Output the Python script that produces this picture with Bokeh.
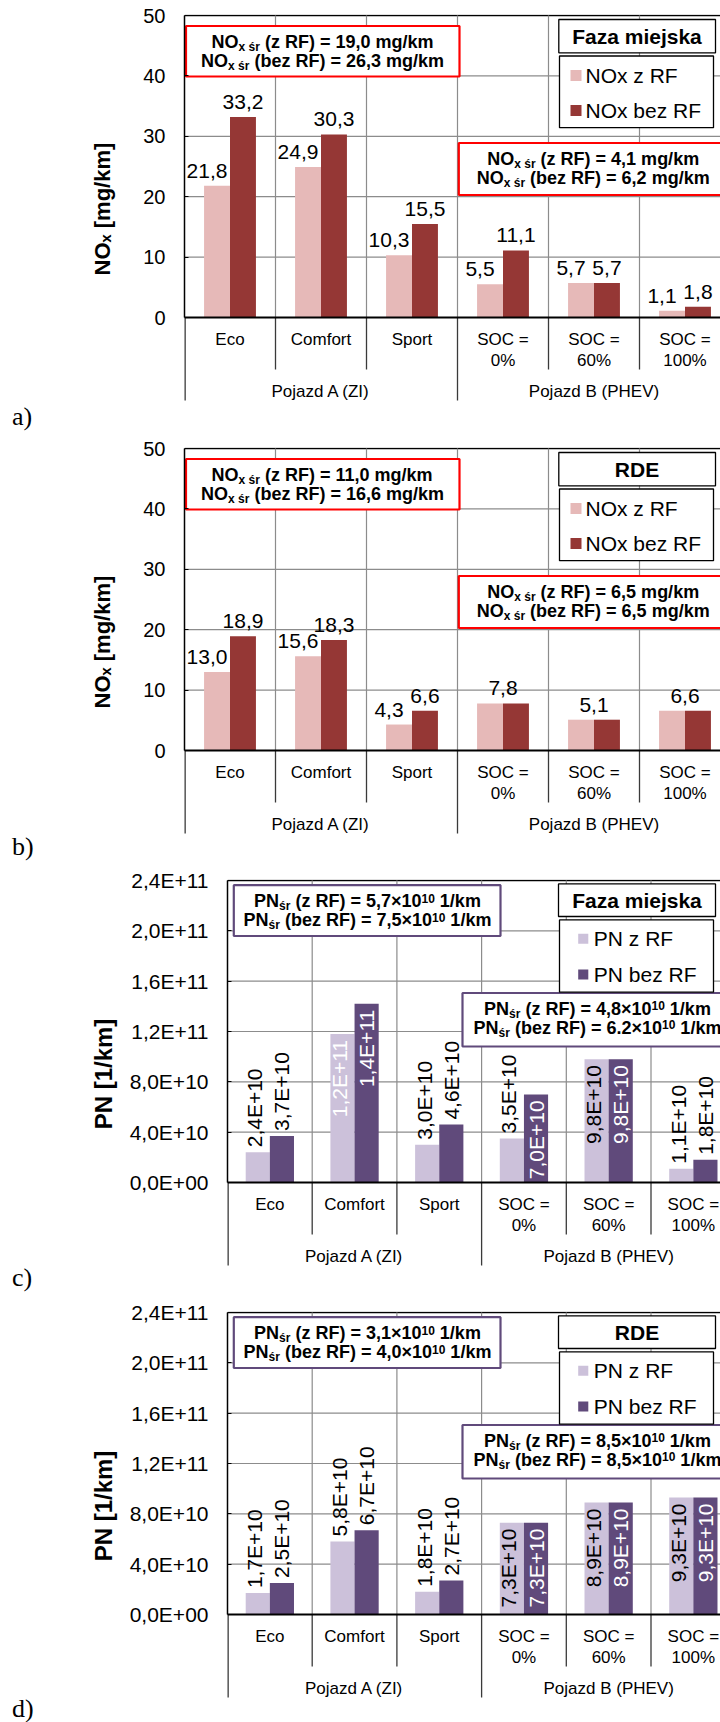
import math
from bokeh.plotting import figure
from bokeh.models import Range1d, FixedTicker, CustomJSTickFormatter, Div
from bokeh.layouts import column
from bokeh.embed import file_html
from bokeh.resources import INLINE
from bokeh.core.properties import value

# ---------------- data ----------------
categories = ["Eco", "Comfort", "Sport", "SOC =\n0%", "SOC =\n60%", "SOC =\n100%"]
groups = ["Pojazd A (ZI)", "Pojazd B (PHEV)"]
group_sizes = [3, 3]

nox_city_z = [21.8, 24.9, 10.3, 5.5, 5.7, 1.1]
nox_city_bez = [33.2, 30.3, 15.5, 11.1, 5.7, 1.8]
nox_rde_z = [13.0, 15.6, 4.3, 7.8, 5.1, 6.6]
nox_rde_bez = [18.9, 18.3, 6.6, 7.8, 5.1, 6.6]
pn_city_z = [2.4e10, 1.18e11, 3.0e10, 3.5e10, 9.8e10, 1.1e10]
pn_city_bez = [3.7e10, 1.42e11, 4.6e10, 7.0e10, 9.8e10, 1.8e10]
pn_rde_z = [1.7e10, 5.8e10, 1.8e10, 7.3e10, 8.9e10, 9.3e10]
pn_rde_bez = [2.5e10, 6.7e10, 2.7e10, 7.3e10, 8.9e10, 9.3e10]

nox_ticks = [0, 10, 20, 30, 40, 50]
nox_tick_labels = ["0", "10", "20", "30", "40", "50"]
pn_ticks = [0, 4e10, 8e10, 1.2e11, 1.6e11, 2.0e11, 2.4e11]
pn_tick_labels = ["0,0E+00", "4,0E+10", "8,0E+10", "1,2E+11", "1,6E+11", "2,0E+11", "2,4E+11"]

# averages per vehicle (A, B): (z RF, bez RF)
nox_city_avg = [("19,0", "26,3"), ("4,1", "6,2")]
nox_rde_avg = [("11,0", "16,6"), ("6,5", "6,5")]
pn_city_avg = [("5,7", "7,5"), ("4,8", "6.2")]
pn_rde_avg = [("3,1", "4,0"), ("8,5", "8,5")]

nox_series = ["NOx z RF", "NOx bez RF"]
pn_series = ["PN z RF", "PN bez RF"]
nox_axis_title = "NOₓ [mg/km]"
pn_axis_title = "PN [1/km]"
phases = ["Faza miejska", "RDE"]
panel_letters = ["a)", "b)", "c)", "d)"]

# ---------------- style ----------------
FONT = "Liberation Sans"
SERIF = "Liberation Serif"
NOX_COL = ("#E6B9B8", "#953735")
PN_COL = ("#CCC1DA", "#604A7B")
NOX_BOX = "#FF0000"
PN_BOX = "#604A7B"
GRID = "#8c8c8c"
SEP = "#3a3a3a"
PAGE_W = 720
PAGE_H = 1722
MID = 0.35  # em distance between text middle and alphabetic baseline

REG = {' ': 278, '(': 333, ')': 333, '=': 584, ',': 278, '.': 278, '/': 278, '×': 584,
       '[': 278, ']': 278, '+': 584, '%': 889, 'A': 667, 'B': 667, 'C': 722, 'E': 667,
       'F': 611, 'I': 278, 'N': 722, 'O': 778, 'P': 667, 'R': 722, 'S': 667, 'Z': 611,
       'a': 556, 'b': 556, 'e': 556, 'g': 556, 'i': 222, 'j': 222, 'k': 500, 'm': 833,
       'r': 333, 's': 500, 'x': 500, 'z': 500, 'ś': 500}
BOLD = {' ': 278, '(': 333, ')': 333, '=': 584, ',': 278, '.': 278, '/': 278, '×': 584,
        '[': 333, ']': 333, '+': 584, 'D': 722, 'E': 667, 'F': 611, 'N': 722, 'O': 778,
        'P': 667, 'R': 722, 'a': 556, 'b': 611, 'e': 556, 'g': 611, 'i': 278, 'j': 278,
        'k': 556, 'm': 889, 'r': 389, 's': 556, 'x': 556, 'z': 500, 'ś': 556}


def tw(s, size, bold=True):
    t = BOLD if bold else REG
    return sum(t.get(c, 556) for c in s) * size / 1000.0


def fmt_nox(v):
    return f"{v:.1f}".replace(".", ",")


def fmt_pn(v):
    e = int(math.floor(math.log10(v)))
    m = v / 10 ** e
    if round(m, 1) >= 10:
        m /= 10
        e += 1
    return f"{m:.1f}".replace(".", ",") + f"E+{e:02d}"


def panel(kind, z, bez, avg, phase, canvas_top, frame_top, merge_equal=False):
    nox = kind == "nox"
    frame_left = 184 if nox else 227
    cat_px = 91.0 if nox else 84.7
    ymax = 50.0 if nox else 2.4e11
    ticks = nox_ticks if nox else pn_ticks
    tlabels = nox_tick_labels if nox else pn_tick_labels
    light, dark = NOX_COL if nox else PN_COL
    boxcol = NOX_BOX if nox else PN_BOX
    series = nox_series if nox else pn_series

    plot_h = 302.0
    below = 86.0
    scale = plot_h / ymax
    zero = frame_top + plot_h
    x_end = (PAGE_W - frame_left) / cat_px

    def X(px):
        return (px - frame_left) / cat_px

    def Y(py):
        return (zero - py) / scale

    top_border = frame_top - canvas_top - 1
    frame_h = int(plot_h + below + 1)
    height = top_border + frame_h + 1
    p = figure(width=PAGE_W, height=height,
               x_range=Range1d(0, x_end), y_range=Range1d(-below / scale, ymax + 1 / scale),
               output_backend="svg", toolbar_location=None, x_axis_location=None,
               min_border_left=frame_left, min_border_right=0,
               min_border_top=top_border, min_border_bottom=1)
    if "frame_align" in p.properties():
        p.frame_align = False
    p.outline_line_color = None
    p.grid.visible = False
    p.background_fill_color = "white"
    p.border_fill_color = "white"

    ax = p.yaxis[0]
    ax.ticker = FixedTicker(ticks=ticks)
    ax.bounds = (0, ymax)
    ax.formatter = CustomJSTickFormatter(
        args=dict(tv=ticks, tl=tlabels),
        code="for (let i = 0; i < tv.length; i++) { if (Math.abs(tv[i] - tick) <= 1e-6 * Math.max(1, Math.abs(tick))) return tl[i]; } return '';")
    ax.major_label_text_font = FONT
    ax.major_label_text_font_size = "20px" if nox else "21px"
    ax.major_label_text_color = "black"
    ax.major_label_standoff = 19
    ax.major_tick_in = 4
    ax.major_tick_out = 0
    ax.major_tick_line_color = "black"
    ax.minor_tick_line_color = None
    ax.axis_line_color = "black"
    ax.axis_line_width = 1.5
    ax.axis_label = nox_axis_title if nox else pn_axis_title
    ax.axis_label_text_font = FONT
    ax.axis_label_text_font_style = "bold"
    ax.axis_label_text_font_size = "22px" if nox else "24px"
    ax.axis_label_text_color = "black"
    ax.axis_label_standoff = 25 if nox else 10

    def txt(xs, ys, ts, size, bold=False, align="left", color="black", angle=0.0):
        p.text(x=xs, y=ys, text=ts, angle=angle, text_font=value(FONT), text_font_size=f"{size}px",
               text_font_style="bold" if bold else "normal", text_align=align,
               text_baseline="middle", text_color=color)

    n = len(categories)
    # gridlines
    hy = [t for t in ticks if 0 < t < ymax]
    p.segment(x0=[0] * len(hy), y0=hy, x1=[x_end] * len(hy), y1=hy, line_color=GRID, line_width=1.2)
    p.segment(x0=[0], y0=[ymax], x1=[x_end], y1=[ymax], line_color="black", line_width=1.5)
    gb, acc = [], 0
    for s in group_sizes[:-1]:
        acc += s
        gb.append(acc)
    bounds = list(range(1, n + 1))
    cb = [b for b in bounds if b not in gb]
    p.segment(x0=bounds, y0=[0] * len(bounds), x1=bounds, y1=[ymax] * len(bounds), line_color=GRID, line_width=1.2)
    p.segment(x0=cb, y0=[0] * len(cb), x1=cb, y1=[Y(zero + 52)] * len(cb), line_color=SEP, line_width=1.3)
    p.segment(x0=gb, y0=[0] * len(gb), x1=gb, y1=[Y(zero + 83)] * len(gb), line_color=SEP, line_width=1.3)
    # continuation of the left border below the value axis
    p.segment(x0=[0], y0=[0], x1=[0], y1=[Y(zero + 83)], line_color=SEP, line_width=2.6)

    # bars
    xl = [i + 0.3575 for i in range(n)]
    xd = [i + 0.6425 for i in range(n)]
    p.vbar(x=xl, top=z, width=0.285, bottom=0, fill_color=light, line_color=None)
    p.vbar(x=xd, top=bez, width=0.285, bottom=0, fill_color=dark, line_color=None)
    p.segment(x0=[0], y0=[0], x1=[x_end], y1=[0], line_color="black", line_width=2)

    # data labels
    if nox:
        lx, ly, lt = [], [], []
        for i in range(n):
            if merge_equal and z[i] == bez[i]:
                lx.append(i + 0.5); ly.append(z[i] + 15 / scale); lt.append(fmt_nox(z[i]))
                continue
            lx.append(xl[i] - 10 / cat_px); ly.append(z[i] + 15 / scale); lt.append(fmt_nox(z[i]))
            lx.append(xd[i]); ly.append(bez[i] + 15 / scale); lt.append(fmt_nox(bez[i]))
        txt(lx, ly, lt, 21, align="center")
    else:
        out_x, out_y, out_t = [], [], []
        in_x, in_y, in_t, in_c = [], [], [], []
        for i in range(n):
            for v, cx, is_dark in ((z[i], xl[i] - 3 / cat_px, False), (bez[i], xd[i], True)):
                if v >= 7e10:
                    in_x.append(cx); in_y.append(v - 6 / scale); in_t.append(fmt_pn(v))
                    in_c.append("white" if (is_dark or v >= 1e11) else "black")
                else:
                    out_x.append(cx); out_y.append(v + 5 / scale); out_t.append(fmt_pn(v))
        txt(out_x, out_y, out_t, 21, align="left", angle=math.pi / 2)
        txt(in_x, in_y, in_t, 21, align="right", color=in_c, angle=math.pi / 2)

    # category axis labels
    cx, cy, ct = [], [], []
    for i, c in enumerate(categories):
        for k, line in enumerate(c.split("\n")):
            cx.append(i + 0.5); cy.append(Y(zero + 21.7 + 21.5 * k)); ct.append(line)
    start = 0
    for g, s in zip(groups, group_sizes):
        cx.append(start + s / 2); cy.append(Y(zero + 74)); ct.append(g)
        start += s
    txt(cx, cy, ct, 17, align="center")

    # rich-text helper (horizontal); base = alphabetic baseline in px
    def rich(cxp, base, segs):
        total = sum(tw(t, s) for t, s, d in segs)
        x0 = cxp - total / 2
        for t, s, d in segs:
            lead = len(t) - len(t.lstrip(" "))
            xs = x0 + tw(" " * lead, s)
            txt([X(xs)], [Y(base + d - MID * s)], [t.strip(" ")], s, bold=True)
            x0 += tw(t, s)

    # average boxes
    if nox:
        boxes = [(185.5, 459.0, 10.5, 61.0, 322.0), (458.3, 727.0, 127.5, 179.5, 592.7)]
    else:
        boxes = [(233.3, 500.0, 4.7, 55.5, 367.0), (462.0, 733.0, 112.5, 166.0, 597.0)]
    for (l, r, t, b, tc), (vz, vb) in zip(boxes, avg):
        p.quad(left=[X(l)], right=[X(r)], top=[Y(frame_top + t)], bottom=[Y(frame_top + b)],
               fill_color="white", line_color=boxcol, line_width=2.2)
        btop = frame_top + t
        for k, (lab, v) in enumerate((("z RF", vz), ("bez RF", vb))):
            base = btop + 22 + 19 * k
            if nox:
                segs = [("NO", 18, 0), ("x śr", 12, 3), (f" ({lab}) = {v} mg/km", 18, 0)]
            else:
                segs = [("PN", 18, 0), ("śr", 12, 3), (f" ({lab}) = {v}×10", 18, 0), ("10", 12, -5), (" 1/km", 18, 0)]
            rich(tc, base, segs)

    # legend with title box
    if nox:
        tb = (558.3, 715.0, 4.0, 37.3)
        lb = (559.0, 713.0, 40.5, 112.2)
        sw = (570.0, 581.0, [60.0, 95.0], 585.0)
    else:
        tb = (558.0, 715.0, 3.4, 36.0)
        lb = (559.0, 713.0, 39.4, 111.7)
        sw = (577.7, 587.8, [58.3, 94.0], 593.3)
    p.quad(left=[X(tb[0]), X(lb[0])], right=[X(tb[1]), X(lb[1])],
           top=[Y(frame_top + tb[2]), Y(frame_top + lb[2])], bottom=[Y(frame_top + tb[3]), Y(frame_top + lb[3])],
           fill_color="white", line_color="black", line_width=1.3)
    txt([X(636.5)], [Y(frame_top + (tb[2] + tb[3]) / 2)], [phase], 21, bold=True, align="center")
    half = (sw[1] - sw[0]) / 2
    for (name, col, rc) in zip(series, (light, dark), sw[2]):
        yc = frame_top + rc
        p.quad(left=[X(sw[0])], right=[X(sw[1])], top=[Y(yc - half)], bottom=[Y(yc + half)],
               fill_color=col, line_color=None)
        txt([X(sw[3])], [Y(yc)], [name], 21)
    return p, canvas_top + height


def letter_div(txt_, top, bottom, center):
    html = (f'<div style="position:relative; top:{center - top - 13}px; left:12px; font-family:\'{SERIF}\', serif; '
            f'font-size:26px; line-height:26px; color:black; white-space:nowrap;">{txt_}</div>')
    return Div(text=html, width=PAGE_W, height=bottom - top, margin=(0, 0, 0, 0))


# canvas tops / frame tops of the four panels (page pixels)
tops = [0, 434, 866, 1298]
frames = [15, 448, 880, 1312]
letter_centers = [417, 847, 1278, 1709]

p1, b1 = panel("nox", nox_city_z, nox_city_bez, nox_city_avg, phases[0], tops[0], frames[0])
p2, b2 = panel("nox", nox_rde_z, nox_rde_bez, nox_rde_avg, phases[1], tops[1], frames[1], merge_equal=True)
p3, b3 = panel("pn", pn_city_z, pn_city_bez, pn_city_avg, phases[0], tops[2], frames[2])
p4, b4 = panel("pn", pn_rde_z, pn_rde_bez, pn_rde_avg, phases[3 - 2], tops[3], frames[3])

d1 = letter_div(panel_letters[0], b1, tops[1], letter_centers[0])
d2 = letter_div(panel_letters[1], b2, tops[2], letter_centers[1])
d3 = letter_div(panel_letters[2], b3, tops[3], letter_centers[2])
d4 = letter_div(panel_letters[3], b4, PAGE_H, letter_centers[3])

layout = column(p1, d1, p2, d2, p3, d3, p4, d4, spacing=0)
open("out.html", "w").write(file_html(layout, INLINE))
